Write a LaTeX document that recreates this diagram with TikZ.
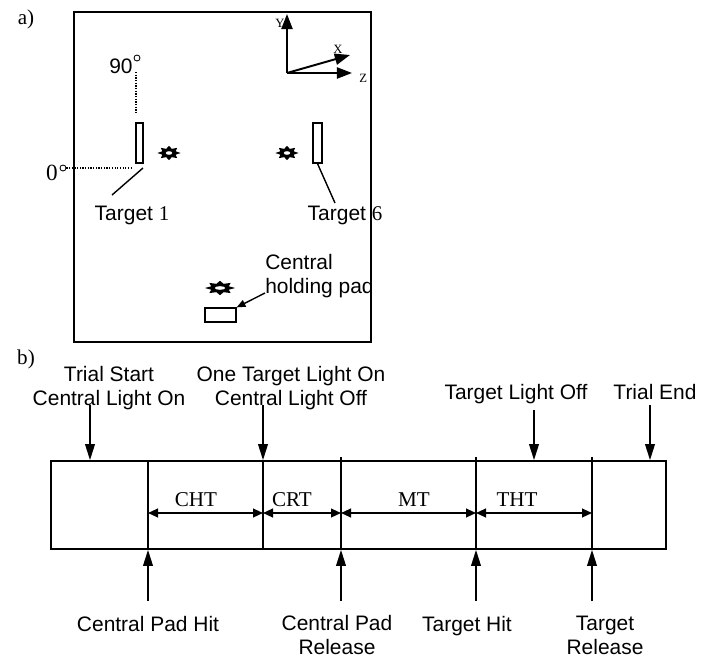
\documentclass[tikz,border=0pt]{standalone}
\usepackage{fontspec}
\setmainfont{Liberation Serif}
\setsansfont{Liberation Sans}
\usetikzlibrary{shapes.geometric, arrows.meta, positioning, calc}

\begin{document}
\begin{tikzpicture}[
  every node/.style={font=\sffamily\fontsize{14.9}{16.4}\selectfont, inner sep=0pt},
  serif/.style={font=\rmfamily\fontsize{15}{16}\selectfont},
  tiny/.style={font=\rmfamily\fontsize{9}{10}\selectfont},
  frame/.style={rectangle, draw, line width=1.2pt},
  targetbox/.style={rectangle, draw, line width=0.9pt, minimum width=0.175cm, minimum height=1cm},
  padbox/.style={rectangle, draw, line width=0.9pt, minimum width=0.775cm, minimum height=0.35cm},
  lamp/.style={star, star points=8, star point ratio=1.6, fill=black, minimum size=0.36cm},
  lampcore/.style={ellipse, fill=white, minimum width=0.16cm, minimum height=0.09cm},
  degree/.style={circle, draw, line width=0.6pt, minimum size=0.15cm},
  guide/.style={densely dotted, line width=0.9pt},
  leader/.style={line width=1pt},
  axisarrow/.style={-{Triangle[length=0.38cm, width=0.28cm]}, line width=1.4pt},
  padarrow/.style={-{Triangle[length=0.22cm, width=0.18cm]}, line width=1pt},
  evarrow/.style={-{Triangle[length=0.4cm, width=0.24cm]}, line width=1.3pt},
  interval/.style={{Triangle[length=0.25cm, width=0.22cm]}-{Triangle[length=0.25cm, width=0.22cm]}, line width=1.2pt},
]
  \useasboundingbox (0,0) rectangle (17.75,-16.45);

  % a) Arena
  \node[serif, anchor=base] (taga) at (0.65,-0.6) {a)};
  \node[frame, minimum width=7.425cm, minimum height=8.25cm] (arena) at (5.5625,-4.425) {};

  % Achsen
  \coordinate (origin) at (7.175,-1.825);
  \coordinate (ytip) at (7.175,-0.35);
  \coordinate (xtip) at (8.75,-1.375);
  \coordinate (ztip) at (8.8,-1.825);
  \draw[axisarrow] (origin) -- (ytip);
  \draw[axisarrow] (origin) -- (xtip);
  \draw[axisarrow] (origin) -- (ztip);
  \node[tiny, anchor=base] (ylab) at (7.0,-0.675) {Y};
  \node[tiny, anchor=base] (xlab) at (8.45,-1.325) {X};
  \node[tiny, anchor=base] (zlab) at (9.08,-2.05) {Z};

  % Winkel
  \node[anchor=base] (ninety) at (3.025,-1.825) {90};
  \node[degree] (deg90) at (3.425,-1.45) {};
  \coordinate (v90a) at (3.4,-1.8);
  \coordinate (v90b) at (3.4,-2.825);
  \draw[guide] (v90a) -- (v90b);
  \node[serif, anchor=base, font=\rmfamily\fontsize{16.5}{17}\selectfont] (zero) at (1.3,-4.5) {0};
  \node[degree] (deg0) at (1.575,-4.2) {};
  \coordinate (h0b) at (3.3,-4.2);
  \draw[guide] (deg0.east) -- (h0b);

  % Ziele
  \node[targetbox] (target1) at (3.4875,-3.575) {};
  \node[targetbox, minimum width=0.225cm] (target6) at (7.9375,-3.575) {};
  \node[lamp, xscale=1.6] (lamp1) at (4.225,-3.825) {};
  \node[lampcore] (core1) at (lamp1) {};
  \node[lamp, xscale=1.6] (lamp6) at (7.175,-3.825) {};
  \node[lampcore] (core6) at (lamp6) {};
  \node[anchor=base] (t1lab) at (3.3,-5.5) {Target {\rmfamily 1}};
  \node[anchor=base] (t6lab) at (8.625,-5.5) {Target {\rmfamily 6}};
  \coordinate (t1a) at (3.575,-4.2);
  \coordinate (t1b) at (2.8,-4.875);
  \coordinate (t6b) at (8.375,-5.075);
  \draw[leader] (t1a) -- (t1b);
  \draw[leader] (target6.south) -- (t6b);

  % Zentrales Pad
  \node[lamp, minimum size=0.36cm, xscale=2.1] (lampc) at (5.5,-7.2) {};
  \node[lampcore, minimum width=0.26cm] (corec) at (lampc) {};
  \node[padbox] (pad) at (5.5125,-7.875) {};
  \node[anchor=base west, align=left] (padlab) at (6.625,-7.325) {Central\\holding pad};
  \coordinate (padtail) at (6.625,-7.325);
  \draw[padarrow] (padtail) -- (pad.north east);

  % b) Zeitablauf
  \node[serif, anchor=base] (tagb) at (0.65,-9.1) {b)};
  \node[frame, minimum width=15.375cm, minimum height=2.2cm] (timeline) at (8.9625,-12.625) {};
  \coordinate (x1) at (3.7,-12.825);
  \coordinate (x2) at (6.575,-12.825);
  \coordinate (x3) at (8.525,-12.825);
  \coordinate (x4) at (11.9,-12.825);
  \coordinate (x5) at (14.8,-12.825);
  \draw[line width=1.2pt] (x1 |- timeline.north) -- (x1 |- timeline.south);
  \draw[line width=1.2pt] (x2 |- timeline.north) -- (x2 |- timeline.south);
  \draw[line width=1.2pt] ($(x3 |- timeline.north)+(0,0.08)$) -- (x3 |- timeline.south);
  \draw[line width=1.2pt] ($(x4 |- timeline.north)+(0,0.08)$) -- (x4 |- timeline.south);
  \draw[line width=1.2pt] ($(x5 |- timeline.north)+(0,0.08)$) -- (x5 |- timeline.south);

  % Intervalle
  \draw[interval] (x1) -- (x2);
  \draw[interval] (x2) -- (x3);
  \draw[interval] (x3) -- (x4);
  \draw[interval] (x4) -- (x5);
  \node[serif, anchor=base] (cht) at (4.9,-12.65) {CHT};
  \node[serif, anchor=base] (crt) at (7.3,-12.65) {CRT};
  \node[serif, anchor=base] (mt) at (10.35,-12.65) {MT};
  \node[serif, anchor=base] (tht) at (12.925,-12.65) {THT};

  % Ereignisse oben
  \node[anchor=base, align=center] (startlab) at (2.725,-10.125) {Trial Start\\Central Light On};
  \node[anchor=base, align=center] (onlab) at (7.275,-10.125) {One Target Light On\\Central Light Off};
  \node[anchor=base] (tlofflab) at (12.9,-9.975) {Target Light Off};
  \node[anchor=base] (endlab) at (16.375,-9.975) {Trial End};
  \coordinate (tsa) at (2.25,-10.125);
  \coordinate (cloa) at (6.575,-10.125);
  \coordinate (tloa) at (13.35,-10.25);
  \coordinate (tea) at (16.25,-10.125);
  \draw[evarrow] (tsa) -- (tsa |- timeline.north);
  \draw[evarrow] (cloa) -- (cloa |- timeline.north);
  \draw[evarrow] (tloa) -- (tloa |- timeline.north);
  \draw[evarrow] (tea) -- (tea |- timeline.north);

  % Ereignisse unten
  \coordinate (cpha) at (3.7,-15.025);
  \coordinate (cpra) at (8.525,-15.025);
  \coordinate (tha) at (11.9,-15.025);
  \coordinate (tra) at (14.8,-15.025);
  \draw[evarrow] (cpha) -- (x1 |- timeline.south);
  \draw[evarrow] (cpra) -- (x3 |- timeline.south);
  \draw[evarrow] (tha) -- (x4 |- timeline.south);
  \draw[evarrow] (tra) -- (x5 |- timeline.south);
  \node[anchor=base] (cphlab) at (3.7,-15.775) {Central Pad Hit};
  \node[anchor=base, align=center] (cprlab) at (8.425,-16.35) {Central Pad\\Release};
  \node[anchor=base] (thlab) at (11.675,-15.775) {Target Hit};
  \node[anchor=base, align=center] (trlab) at (15.125,-16.35) {Target\\Release};
\end{tikzpicture}
\end{document}
